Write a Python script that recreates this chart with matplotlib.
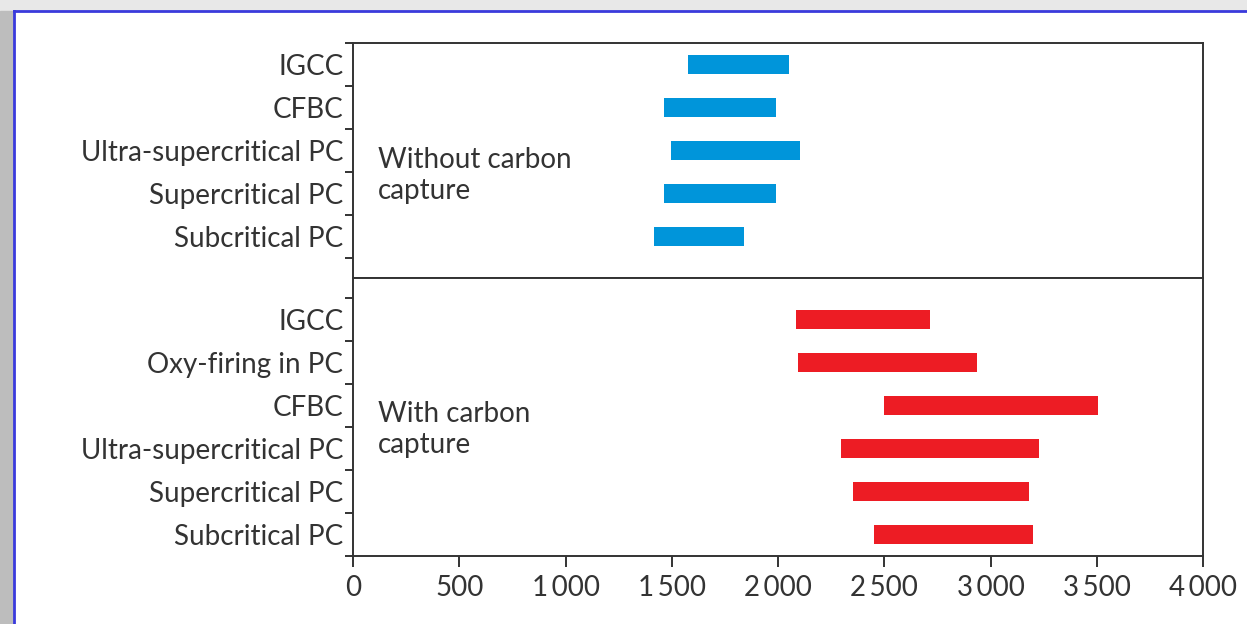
import numpy as np
import matplotlib.pyplot as plt
from matplotlib.patches import Rectangle

# ── Data ───────────────────────────────────────────────────────────────────────
TOP_LABELS = ["IGCC", "CFBC", "Ultra-supercritical PC", "Supercritical PC", "Subcritical PC"]
TOP_LOW    = [1575, 1465, 1495, 1465, 1415]
TOP_HIGH   = [2050, 1990, 2105, 1990, 1840]

BOT_LABELS = ["IGCC", "Oxy-firing in PC", "CFBC", "Ultra-supercritical PC",
              "Supercritical PC", "Subcritical PC"]
BOT_LOW    = [2085, 2095, 2500, 2295, 2355, 2450]
BOT_HIGH   = [2715, 2935, 3505, 3230, 3180, 3200]

X_TICKS      = [0, 500, 1000, 1500, 2000, 2500, 3000, 3500, 4000]
X_TICKLABELS = ["0", "500", "1\u2009000", "1\u2009500", "2\u2009000",
                "2\u2009500", "3\u2009000", "3\u2009500", "4\u2009000"]

BLUE = "#0095da"
RED  = "#ed1c24"
INK  = "#333333"
FS   = 20

plt.rcParams["font.family"] = ["Lato", "DejaVu Sans"]
W, H = 1247, 624
fig = plt.figure(figsize=(W / 100, H / 100), dpi=100)

# page frame: grey margins and blue rule (behind the axes)
fig.patches.append(Rectangle((0, 0), 1, 1, transform=fig.transFigure,
                             color="#e8e8e8", zorder=-3))
fig.patches.append(Rectangle((14 / W, 0), 1, 1 - 11 / H, transform=fig.transFigure,
                             facecolor="white", edgecolor="none", zorder=-2))
fig.patches.append(Rectangle((0, 0), 13 / W, 1 - 11 / H, transform=fig.transFigure,
                             color="#bdbdbd", zorder=-2))
fig.lines.append(plt.Line2D([14 / W, 1], [1 - 11 / H] * 2, transform=fig.transFigure,
                            color="#3a3adc", lw=2, zorder=-1))
fig.lines.append(plt.Line2D([14 / W] * 2, [0, 1 - 11 / H], transform=fig.transFigure,
                            color="#3a3adc", lw=2, zorder=-1))

left, right = 353 / W, 1203 / W
ax_top = fig.add_axes([left, 1 - 278 / H, right - left, 235 / H])
ax_bot = fig.add_axes([left, 1 - 556 / H, right - left, 278 / H])


def style(ax, labels, ymax, ytop):
    n = len(labels)
    ax.set_xlim(0, 4000)
    ax.set_ylim(ymax, ytop)
    ax.set_yticks(np.arange(0, n + 1))
    ax.set_yticklabels([])
    ax.set_yticks(np.arange(n) + 0.5, minor=True)
    ax.set_yticklabels(labels, minor=True, fontsize=FS, color=INK)
    ax.tick_params(axis="y", which="major", length=6, width=1.4, color=INK)
    ax.tick_params(axis="y", which="minor", length=0, pad=7)
    for s in ax.spines.values():
        s.set_linewidth(1.4)
        s.set_color(INK)


for i, (lo, hi) in enumerate(zip(TOP_LOW, TOP_HIGH)):
    ax_top.barh(i + 0.5, hi - lo, left=lo, height=0.45, color=BLUE)
style(ax_top, TOP_LABELS, 235 / 43, 0)
ax_top.set_xticks([])
ax_top.text(118, 3.08, "Without carbon\ncapture", fontsize=FS, color=INK,
            va="center", ha="left", linespacing=1.25)

for i, (lo, hi) in enumerate(zip(BOT_LOW, BOT_HIGH)):
    ax_bot.barh(i + 0.5, hi - lo, left=lo, height=0.45, color=RED)
style(ax_bot, BOT_LABELS, 6, -20 / 43)
ax_bot.set_xticks(X_TICKS)
ax_bot.set_xticklabels(X_TICKLABELS, fontsize=FS, color=INK)
ax_bot.tick_params(axis="x", length=8, width=1.4, color=INK, pad=6)
ax_bot.text(118, 3.06, "With carbon\ncapture", fontsize=FS, color=INK,
            va="center", ha="left", linespacing=1.25)

fig.savefig("out.png", dpi=100)
